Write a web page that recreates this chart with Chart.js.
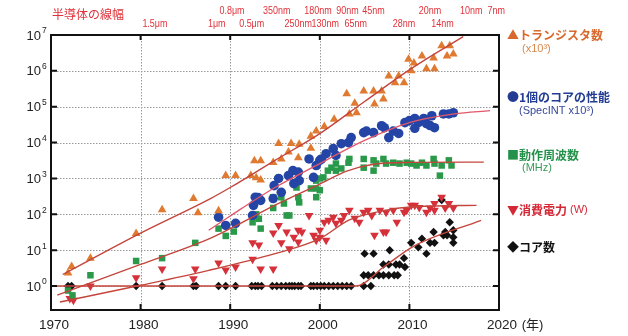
<!DOCTYPE html>
<html>
<head>
<meta charset="utf-8">
<script src="https://cdn.jsdelivr.net/npm/chart.js@4.4.1/dist/chart.umd.min.js"></script>
<style>
  html, body { margin: 0; padding: 0; background: #fff; }
  #wrap { width: 628px; height: 336px; }
</style>
</head>
<body>
<div id="wrap"><canvas id="trend" width="628" height="336"></canvas></div>
<script>
// [year, value] pairs
const transistors = [
  [1971.9, 2.3], [1972.3, 3.5], [1974.4, 6], [1979.5, 29], [1982.4, 134], [1985.9, 275],
  [1986.4, 110], [1988.7, 125], [1989.5, 1200], [1990.6, 1200], [1992.3, 1200], [1992.7, 3100],
  [1993.4, 3100], [1992.9, 1050], [1993.4, 900], [1994.8, 2800], [1995.7, 3500], [1995.4, 9500],
  [1996.8, 9500], [1997.7, 9000], [1996.5, 5500], [1997.6, 3800], [1999.0, 15000], [1999.6, 21000],
  [1999.0, 7000], [2000.5, 28000], [2001.6, 45000], [2003.3, 63000], [2004.1, 68000], [2003.0, 230000],
  [2003.9, 125000], [2004.9, 275000], [2006.0, 275000], [2006.1, 120000], [2007.1, 165000],
  [2006.9, 275000], [2007.7, 720000], [2008.4, 470000], [2008.8, 720000], [2009.4, 470000],
  [2009.9, 2100000], [2010.5, 1650000], [2010.2, 1000000], [2011.4, 2600000], [2011.9, 1150000],
  [2012.8, 1150000], [2012.7, 2300000], [2013.6, 5000000], [2014.5, 5000000], [2014.9, 2950000],
  [2014.2, 2600000]
];
const performance = [
  [1988.7, 83], [1989.5, 49], [1990.6, 56], [1992.5, 93], [1992.6, 178], [1993.1, 295], [1993.4, 245],
  [1992.8, 300], [1994.8, 275], [1994.9, 630], [1995.7, 410], [1995.4, 1000], [1996.5, 1200],
  [1997.0, 1650], [1997.6, 1500], [1997.1, 720], [1997.7, 870], [1998.8, 3500], [1999.3, 1070],
  [1999.6, 2300], [2000.0, 3200], [2000.2, 3500], [2000.7, 4900], [2001.5, 6800], [2001.8, 4400],
  [2002.4, 9300], [2003.2, 10000], [2003.5, 13800], [2004.9, 19000], [2005.2, 21000], [2006.0, 19000],
  [2006.9, 29500], [2007.2, 26000], [2007.7, 13800], [2008.2, 21000], [2008.8, 18000], [2009.5, 36000],
  [2010.0, 41000], [2010.6, 47000], [2011.0, 36000], [2010.6, 25000], [2011.6, 47000], [2011.9, 34000],
  [2012.3, 30000], [2012.5, 56000], [2012.8, 26000], [2013.8, 63000], [2014.4, 63000], [2014.9, 68000]
];
const frequency = [
  [1971.9, 0.75], [1972.4, 0.55], [1974.4, 2], [1979.5, 5], [1982.4, 6], [1986.1, 16], [1988.7, 40],
  [1989.5, 25], [1990.4, 33], [1992.5, 60], [1992.9, 100], [1993.2, 75], [1993.4, 40], [1994.8, 150],
  [1994.8, 300], [1995.7, 300], [1996.0, 200], [1996.3, 93], [1996.6, 93], [1997.4, 560], [1997.6, 300],
  [1997.7, 215], [1999.0, 525], [1999.6, 525], [2000.0, 1000], [1999.6, 300], [1999.6, 870],
  [2000.0, 470], [2000.4, 1070], [2000.9, 1650], [2001.3, 2000], [2001.8, 1650], [2001.8, 2600],
  [2002.4, 1900], [2003.2, 2750], [2003.3, 3500], [2004.9, 3500], [2004.9, 2000], [2006.0, 1650],
  [2006.0, 3200], [2006.3, 2600], [2007.1, 3500], [2007.4, 2600], [2008.2, 2750], [2008.9, 2600],
  [2009.7, 2750], [2010.2, 2600], [2010.8, 2300], [2011.4, 2750], [2011.9, 2300], [2012.7, 3500],
  [2012.8, 2600], [2013.4, 1200], [2013.6, 2300], [2014.4, 3200], [2014.7, 2300]
];
const power = [
  [1972.1, 0.45], [1972.5, 0.4], [1974.4, 1.0], [1979.5, 1.7], [1982.4, 3], [1985.9, 1.6], [1986.1, 3],
  [1988.7, 4.4], [1989.5, 2.8], [1990.6, 3.4], [1992.5, 5.6], [1992.5, 16], [1993.2, 14], [1993.4, 3],
  [1994.8, 3], [1994.8, 30], [1995.4, 49], [1995.7, 16], [1996.3, 32], [1996.6, 11], [1997.1, 23],
  [1997.6, 36], [1997.6, 17], [1998.0, 32], [1998.8, 93], [1999.3, 26], [1999.6, 19], [2000.0, 23],
  [2000.0, 36], [2000.7, 19], [2000.5, 60], [2001.0, 68], [2001.5, 83], [2001.8, 56], [2002.4, 68],
  [2002.7, 93], [2003.3, 130], [2003.9, 78], [2004.4, 60], [2004.9, 115], [2005.4, 130], [2005.8, 93],
  [2006.1, 26], [2007.1, 32], [2007.4, 32], [2006.7, 130], [2007.4, 115], [2008.2, 130], [2008.6, 60],
  [2009.4, 115], [2009.7, 130], [2010.2, 180], [2010.6, 180], [2011.1, 155], [2011.9, 115],
  [2012.3, 150], [2012.8, 130], [2012.8, 200], [2013.6, 300], [2014.0, 150], [2014.4, 200], [2014.9, 150]
];
const cores = [
  [1971.9, 1], [1972.3, 1], [1979.5, 1], [1982.4, 1], [1985.9, 1], [1986.2, 1], [1988.7, 1], [1989.5, 1],
  [1990.6, 1], [1992.4, 1], [1992.8, 1], [1993.1, 1], [1993.5, 1], [1994.7, 1], [1995.2, 1], [1995.7, 1],
  [1996.2, 1], [1996.6, 1], [1996.9, 1], [1997.2, 1], [1997.6, 1], [1997.9, 1], [1999.0, 1], [1999.3, 1],
  [1999.7, 1], [2000.1, 1], [2000.5, 1], [2001.0, 1], [2001.5, 1], [2002.0, 1], [2002.5, 1], [2003.0, 1],
  [2003.5, 1], [2004.9, 1], [2005.7, 1],
  [2004.9, 2], [2005.4, 2], [2006.0, 2], [2006.6, 2], [2007.1, 2], [2007.7, 2], [2008.3, 2], [2008.7, 2],
  [2007.1, 4], [2007.7, 4], [2008.5, 4], [2008.9, 4], [2009.5, 3.4],
  [2005.0, 8], [2006.0, 8], [2007.8, 10], [2009.4, 6], [2011.9, 8],
  [2010.2, 16], [2011.0, 12], [2011.4, 21], [2012.3, 16], [2012.7, 32], [2012.8, 16], [2013.8, 26],
  [2014.0, 32], [2014.2, 26], [2014.5, 60], [2014.9, 36], [2014.9, 23], [2014.9, 16], [2013.6, 250]
];

// fitted trend curves
const transFit = [[1971.3, 2.1], [1980, 30], [1987.8, 275], [1990, 560], [1995, 3200], [2000, 17800], [2005, 140000], [2010.2, 1150000], [2016, 9000000]];
const perfFit = [[1987.6, 36], [1990, 90], [1995, 560], [2000, 2600], [2005, 11500], [2010, 36000], [2015, 63000], [2019, 78000]];
const freqFit = [[1970.7, 0.56], [1980, 4], [1987.5, 20], [1990, 40], [1995, 180], [2000, 700], [2003, 1600], [2006, 2500], [2010, 2800], [2018.3, 2850]];
const powerFit = [[1971, 0.36], [1980, 1.05], [1987.5, 2.7], [1995, 8], [2000, 21], [2003.3, 70], [2007, 125], [2010.8, 165], [2017.5, 178]];
const coreFit = [[1970, 1], [2004, 1], [2007.2, 3.5], [2010.5, 13], [2018, 68]];

// axis
const xTicks = [1970, 1980, 1990, 2000, 2010, 2020];
const yPowers = [0, 1, 2, 3, 4, 5, 6, 7];

// process nodes along the top
const nodeLabels = ['0.8μm', '350nm', '180nm', '90nm', '45nm', '20nm', '10nm', '7nm',
                    '1.5μm', '1μm', '0.5μm', '250nm', '130nm', '65nm', '28nm', '14nm'];
const nodeYears = [1990.2, 1995.2, 1999.8, 2003.1, 2006.0, 2012.3, 2016.9, 2019.7,
                   1981.6, 1988.5, 1992.4, 1997.6, 2000.6, 2004.0, 2009.4, 2013.7];
const nodeRows = [0, 0, 0, 0, 0, 0, 0, 0, 1, 1, 1, 1, 1, 1, 1, 1];

const toXY = arr => arr.map(p => ({x: p[0], y: p[1]}));
const fitColor = '#c4453c';

function fitLine(data, color) {
  return {
    type: 'line', data: toXY(data), borderColor: color, borderWidth: 1.4,
    pointRadius: 0, fill: false, cubicInterpolationMode: 'monotone', order: 0
  };
}
function dots(data, color, style, r, rot) {
  return {
    type: 'scatter', data: toXY(data), backgroundColor: color, borderColor: color,
    borderWidth: 0, pointStyle: style, pointRadius: r, rotation: rot || 0, order: 1
  };
}

// narrow text: squeeze horizontally around its centre
function narrowText(ctx, txt, cx, cy, sx) {
  ctx.save();
  ctx.translate(cx, cy);
  ctx.scale(sx, 1);
  ctx.fillText(txt, 0, 0);
  ctx.restore();
}

const decor = {
  id: 'decor',
  beforeDatasetsDraw(chart) {
    const {ctx, chartArea: a, scales: {x, y}} = chart;
    ctx.save();
    ctx.strokeStyle = '#9a9a9a';
    ctx.lineWidth = 1;
    ctx.setLineDash([1.5, 1.5]);
    for (const p of yPowers.slice(0, -1)) {
      const py = Math.round(y.getPixelForValue(Math.pow(10, p))) + 0.5;
      ctx.beginPath(); ctx.moveTo(a.left, py); ctx.lineTo(a.right, py); ctx.stroke();
    }
    for (const t of xTicks.slice(1, -1)) {
      const px = Math.round(x.getPixelForValue(t)) + 0.5;
      ctx.beginPath(); ctx.moveTo(px, a.top); ctx.lineTo(px, a.bottom); ctx.stroke();
    }
    ctx.restore();
  },
  afterDatasetsDraw(chart) {
    const {ctx, chartArea: a, scales: {x, y}} = chart;
    ctx.save();
    // frame
    ctx.strokeStyle = '#111';
    ctx.lineWidth = 2;
    ctx.strokeRect(a.left, a.top, a.right - a.left, a.bottom - a.top);
    // inner ticks
    for (const p of yPowers.slice(0, -1)) {
      const py = y.getPixelForValue(Math.pow(10, p));
      ctx.beginPath();
      ctx.moveTo(a.left, py); ctx.lineTo(a.left + 6, py);
      ctx.moveTo(a.right, py); ctx.lineTo(a.right - 6, py);
      ctx.stroke();
    }
    for (const t of xTicks.slice(1, -1)) {
      const px = x.getPixelForValue(t);
      ctx.beginPath();
      ctx.moveTo(px, a.bottom); ctx.lineTo(px, a.bottom - 6);
      ctx.moveTo(px, a.top); ctx.lineTo(px, a.top + 5);
      ctx.stroke();
    }
    // y labels
    ctx.fillStyle = '#222';
    ctx.textBaseline = 'middle';
    for (const p of yPowers) {
      const py = y.getPixelForValue(Math.pow(10, p));
      ctx.font = '13px "Liberation Sans", Arial, sans-serif';
      ctx.textAlign = 'right';
      ctx.fillText('10', 41, py + 1);
      ctx.font = '8.5px "Liberation Sans", Arial, sans-serif';
      ctx.textAlign = 'left';
      ctx.fillText(String(p), 42, py - 4);
    }
    // x labels
    ctx.font = '13.5px "Liberation Sans", Arial, sans-serif';
    for (const t of xTicks) {
      const px = x.getPixelForValue(t) + 3;
      ctx.textAlign = 'center';
      ctx.fillText(String(t), px, 325);
      if (t === 2020) {
        const w = ctx.measureText('2020').width;
        ctx.textAlign = 'left';
        ctx.font = '13px "Liberation Sans", "Noto Sans CJK JP", sans-serif';
        ctx.fillText(' (年)', px + w / 2 + 1, 325);
      }
    }
    // process nodes
    ctx.fillStyle = '#e0323a';
    ctx.font = '12px "Noto Sans CJK JP", sans-serif';
    ctx.textAlign = 'left';
    ctx.fillText('半導体の線幅', 52, 14);
    ctx.font = '11.5px "Liberation Sans", Arial, sans-serif';
    ctx.textAlign = 'center';
    nodeLabels.forEach((lab, i) => {
      narrowText(ctx, lab, x.getPixelForValue(nodeYears[i]), nodeRows[i] ? 24 : 11, 0.78);
    });
    // legend
    const leg = (txt, col, px, py, font) => {
      ctx.fillStyle = col; ctx.font = font; ctx.textAlign = 'left';
      ctx.fillText(txt, px, py);
      return ctx.measureText(txt).width;
    };
    const big = 'bold 12px "Noto Sans CJK JP", sans-serif';
    const small = '11px "Liberation Sans", "Noto Sans CJK JP", sans-serif';
    leg('▲トランジスタ数', '#d8682c', 507, 35, big);
    leg('(x10³)', '#d8884c', 522, 49, small);
    leg('●1個のコアの性能', '#213c92', 507, 97, big);
    leg('(SpecINT x10³)', '#33489a', 519, 111, small);
    leg('■動作周波数', '#23914a', 507, 155, big);
    leg('(MHz)', '#3b9a5a', 522, 168, small);
    const w = leg('▼消費電力', '#d42836', 507, 210, big);
    leg('(W)', '#d42836', 507 + w + 3, 210, small);
    leg('◆コア数', '#111', 507, 247, big);
    ctx.restore();
  }
};

new Chart(document.getElementById('trend'), {
  type: 'scatter',
  data: {
    datasets: [
      fitLine(transFit, fitColor),
      fitLine(perfFit, '#e2576a'),
      fitLine(freqFit, fitColor),
      fitLine(powerFit, fitColor),
      fitLine(coreFit, fitColor),
      dots(transistors, '#e07a30', 'triangle', 5),
      dots(performance, '#2545a6', 'circle', 4.8),
      dots(frequency, '#2a9a4a', 'rect', 4.6),
      dots(power, '#d6303a', 'triangle', 5, 180),
      dots(cores, '#111', 'rectRot', 4.2)
    ]
  },
  options: {
    responsive: false,
    animation: false,
    devicePixelRatio: 1,
    layout: {padding: {left: 51, right: 129, top: 35, bottom: 26}},
    plugins: {legend: {display: false}, tooltip: {enabled: false}},
    scales: {
      x: {type: 'linear', min: 1970, max: 2020, display: false},
      y: {type: 'logarithmic', min: 0.215, max: 1e7, display: false}
    }
  },
  plugins: [decor]
});
</script>
</body>
</html>
